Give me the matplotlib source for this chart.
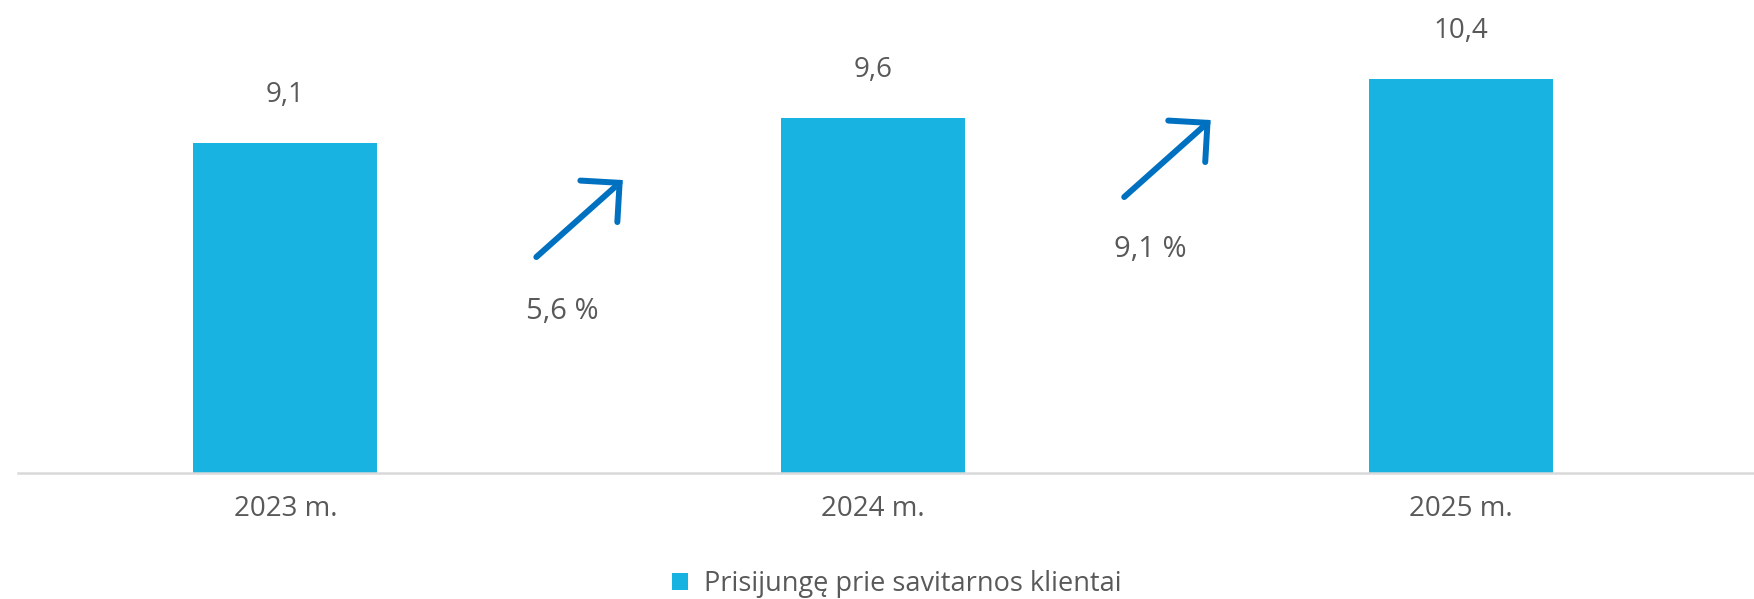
import matplotlib.pyplot as plt
from matplotlib.patches import ArrowStyle

# data
years = ['2023 m.', '2024 m.', '2025 m.']
values = [9.1, 9.6, 10.4]
value_labels = ['9,1', '9,6', '10,4']
growth_labels = ['5,6 %', '9,1 %']
series_name = 'Prisijungę prie savitarnos klientai'

bar_color = '#19B3E2'
arrow_color = '#0070C0'
text_color = '#595959'

plt.rcParams['font.family'] = ['Open Sans', 'DejaVu Sans']

fig = plt.figure(figsize=(17.54, 5.99), dpi=100)
ax = fig.add_axes([18 / 1754, 126.5 / 599, 1736 / 1754, 472.5 / 599])

x = list(range(len(years)))
bars = ax.bar(x, values, width=0.313, color=bar_color, label=series_name)

ax.set_xlim(-0.4547, 2.4983)
ax.set_ylim(2.345, 12.017)

for rect, lab in zip(bars, value_labels):
    ax.annotate(lab, (rect.get_x() + rect.get_width() / 2, rect.get_height()),
                xytext=(0, 34.5), textcoords='offset points',
                ha='center', va='center', fontsize=20, color=text_color)

# growth arrows between bars (y in axes fraction)
arrow_y = [(0.456, 0.619), (0.583, 0.746)]
label_y = [0.341, 0.473]
style = ArrowStyle('->', head_length=2.0, head_width=2.0)
for i, lab in enumerate(growth_labels):
    mid = i + 0.5
    y0, y1 = arrow_y[i]
    ax.annotate('', xy=(mid + 0.074, y1), xytext=(mid - 0.073, y0),
                xycoords=('data', 'axes fraction'),
                textcoords=('data', 'axes fraction'),
                arrowprops=dict(arrowstyle=style, color=arrow_color, lw=4.3,
                                capstyle='round', joinstyle='miter',
                                mutation_scale=10, shrinkA=0, shrinkB=0))
    ax.text(mid - 0.029, label_y[i], lab, transform=ax.get_xaxis_transform(),
            ha='center', va='center', fontsize=21, color=text_color)

for side in ['top', 'right', 'left']:
    ax.spines[side].set_visible(False)
ax.spines['bottom'].set_color('#D9D9D9')
ax.spines['bottom'].set_linewidth(1.8)
ax.set_yticks([])
ax.set_xticks(x)
ax.set_xticklabels(years, fontsize=20, color=text_color)
ax.tick_params(axis='x', length=0, pad=16)

fig.legend(handles=[bars], labels=[series_name], loc='center',
           bbox_to_anchor=(897 / 1754, 1 - 584 / 599), frameon=False,
           fontsize=19.5, labelcolor=text_color, handlelength=0.6,
           handleheight=0.6, handletextpad=0.6)

fig.savefig('out.png', dpi=100)
